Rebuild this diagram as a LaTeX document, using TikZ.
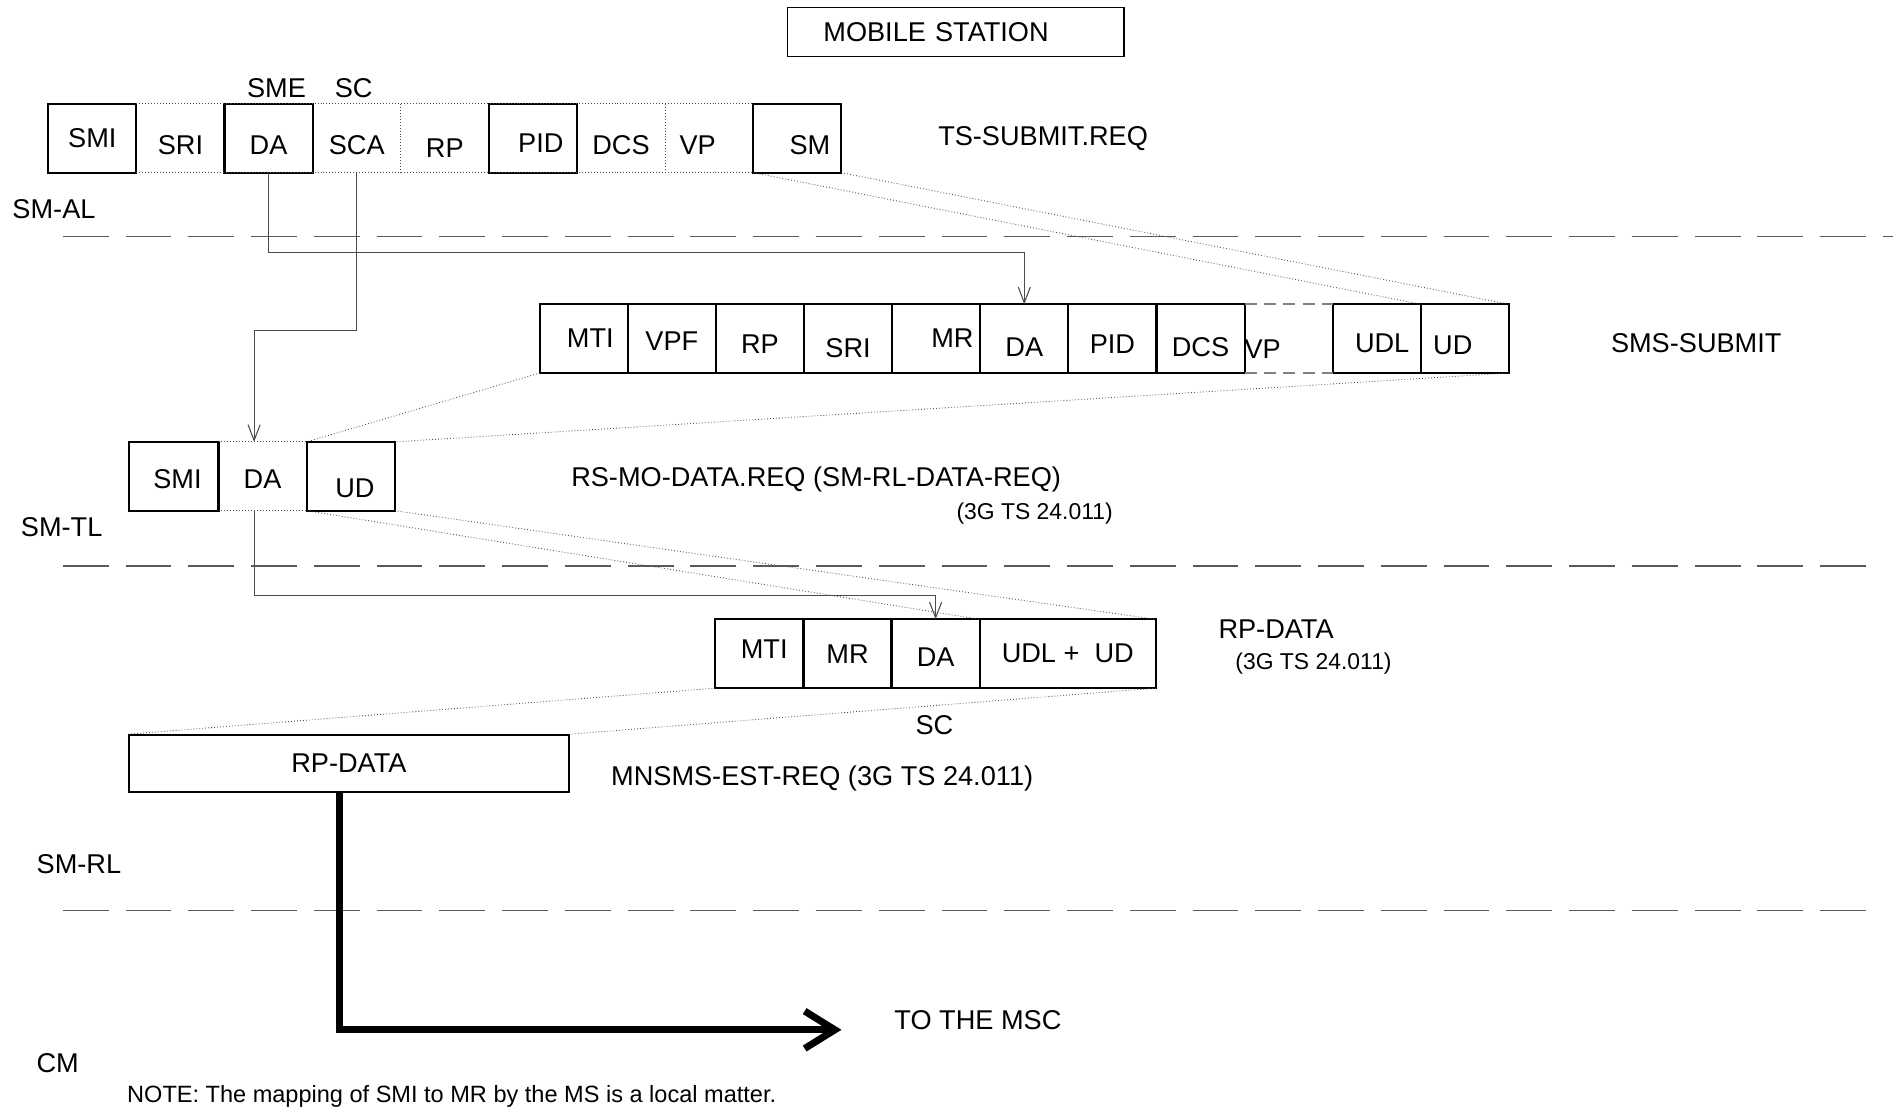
\documentclass[tikz,border=0pt]{standalone}
\usepackage{fontspec}
\setmainfont{Liberation Sans}
\usetikzlibrary{arrows.meta, positioning, calc}
\definecolor{lyrgray}{HTML}{5A5A5A}
\definecolor{mapgray}{HTML}{505050}
\newcommand\lblfont{\fontsize{12.8}{15}\selectfont}
\newcommand\reffont{\fontsize{10.8}{13}\selectfont}
\newcommand\notefont{\fontsize{11.1}{13}\selectfont}

\begin{document}
\begin{tikzpicture}[
  x=0.02cm, y=-0.02cm,
  font=\lblfont,
  cell/.style={minimum width=1.46cm, minimum height=1.14cm, inner sep=0pt, outer sep=0pt},
  fld/.style={cell, draw, line width=1pt},
  sink/.style={text height=#1, text depth=0pt},
  map/.style={densely dotted, line width=0.4pt, mapgray},
  gapline/.style={line width=0.7pt, gray, dash pattern=on 0.2cm off 0.12cm},
  lyr/.style={line width=0.7pt, lyrgray, dash pattern=on 0.76cm off 0.28cm},
  conn/.style={-{Straight Barb[length=0.26cm, width=0.2cm]}, line width=0.5pt, black!70},
  bigarr/.style={-{Straight Barb[length=0.5cm, width=0.62cm]}, line width=3.3pt, line join=miter},
  lbl/.style={inner sep=0pt},
  refnote/.style={inner sep=0pt, font=\reffont},
]

\useasboundingbox (0,0) rectangle (1568,919);

% Header
\node[draw, line width=0.6pt, minimum height=0.82cm, inner xsep=0.6cm, inner ysep=0pt,
  text width=4.38cm, align=left] (ms) at (791.5,26.5) {MOBILE STATION};

% SM-AL: TS-SUBMIT.REQ
\node[lbl] (sme) at (229,73) {SME};
\node[lbl] (sc1) at (293,73) {SC};
\node[fld] (smi1) at (76.5,114.5) {SMI};
\node[cell, sink=15.4pt, right=0pt of smi1] (sri1) {SRI};
\node[fld, sink=15.4pt, right=0pt of sri1] (da1) {DA};
\node[cell, sink=15.4pt, right=0pt of da1] (sca1) {SCA};
\node[cell, sink=17.7pt, right=0pt of sca1] (rp1) {RP};
\node[fld, sink=13.1pt, right=0pt of rp1] (pid1) {\hspace*{0.26cm}PID};
\node[cell, sink=15.4pt, right=0pt of pid1] (dcs1) {DCS};
\node[cell, sink=15.4pt, right=0pt of dcs1] (vp1) {VP\hspace*{0.38cm}};
\node[fld, sink=15.4pt, right=0pt of vp1] (sm1) {\hspace*{0.42cm}SM};
\draw[map] (smi1.north east) -- (sm1.north west);
\draw[map] (smi1.south east) -- (sm1.south west);
\draw[map] (sca1.north east) -- (sca1.south east);
\draw[map] (dcs1.north east) -- (dcs1.south east);
\node[lbl] (tsreq) at (864,115) {TS-SUBMIT.REQ};
\node[lbl, anchor=west] (smal) at (10,173) {SM-AL};
\draw[lyr] (52,196) -- (1568,196);

% SMS-SUBMIT
\node[fld] (mti2) at (483.5,280.5) {\hspace*{0.22cm}MTI};
\node[fld, sink=11.5pt, right=0pt of mti2] (vpf2) {VPF};
\node[fld, sink=14.3pt, right=0pt of vpf2] (rp2) {RP};
\node[fld, sink=17.7pt, right=0pt of rp2] (sri2) {SRI};
\node[fld, right=0pt of sri2] (mr2) {\hspace*{0.54cm}MR};
\node[fld, sink=16.5pt, right=0pt of mr2] (da2) {DA};
\node[fld, sink=14.3pt, right=0pt of da2] (pid2) {PID};
\node[fld, sink=16.5pt, right=0pt of pid2] (dcs2) {DCS};
\node[cell, sink=18.8pt, right=0pt of dcs2, text width=1.46cm, align=left] (vp2) {VP};
\node[fld, sink=13.1pt, right=0pt of vp2] (udl2) {\hspace*{0.18cm}UDL};
\node[fld, sink=15.4pt, right=0pt of udl2] (ud2) {UD\hspace*{0.4cm}};
\draw[gapline] (vp2.north west) -- (vp2.north east);
\draw[gapline] (vp2.south west) -- (vp2.south east);
\node[lbl] (smssub) at (1405,284) {SMS-SUBMIT};

% SM-TL
\node[fld, sink=12.0pt, minimum width=1.48cm] (smi3) at (144,394.5) {\hspace*{0.12cm}SMI};
\node[cell, sink=12.0pt, right=0pt of smi3] (da3) {DA};
\node[fld, sink=19.9pt, right=0pt of da3] (ud3) {\hspace*{0.14cm}UD};
\draw[map] (smi3.north east) -- (ud3.north west);
\draw[map] (smi3.south east) -- (ud3.south west);
\node[lbl] (rsmo) at (676,397) {RS-MO-DATA.REQ (SM-RL-DATA-REQ)};
\node[refnote] (ts1) at (857,425) {(3G TS 24.011)};
\node[lbl, anchor=west] (smtl) at (17,437) {SM-TL};
\draw[lyr] (52,469) -- (1550,469);

% RP-DATA
\node[fld, text height=9.17pt, text depth=5.1pt] (mti4) at (629,541.5) {\hspace*{0.16cm}MTI};
\node[fld, right=0pt of mti4] (mr4) {MR};
\node[fld, sink=12.0pt, right=0pt of mr4] (da4) {DA};
\node[fld, right=0pt of da4, minimum width=2.92cm] (ud4) {UDL +\ \ UD};
\node[lbl] (rpd) at (1057,521) {RP-DATA};
\node[refnote] (ts2) at (1088,550) {(3G TS 24.011)};
\node[lbl] (sc4) at (774,601) {SC};

% SM-RL
\node[draw, line width=1pt, minimum width=7.28cm, minimum height=0.94cm, inner sep=0pt]
  (rpbox) at (289,632.5) {RP-DATA};
\node[lbl] (mnsms) at (681,645) {MNSMS-EST-REQ (3G TS 24.011)};
\node[lbl, anchor=west] (smrl) at (30,716) {SM-RL};
\draw[lyr] (52,754) -- (1550,754);

% CM
\node[lbl] (msc) at (810,845) {TO THE MSC};
\coordinate (msctip) at (697,853);
\node[lbl, anchor=west] (cm) at (30,881) {CM};
\node[lbl, anchor=west, font=\notefont] (note) at (105,908)
  {NOTE: The mapping of SMI to MR by the MS is a local matter.};

% Mappings
\draw[map] (vp1.south east) -- (udl2.north east);
\draw[map] (sm1.south east) -- (ud2.north east);
\draw[map] (mti2.south west) -- (ud3.north west);
\draw[map] (ud2.south east) -- (ud3.north east);
\draw[map] (ud3.south west) -- (ud4.north west);
\draw[map] (ud3.south east) -- (ud4.north east);
\draw[map] (mti4.south west) -- (rpbox.north west);
\draw[map] (ud4.south east) -- (rpbox.north east);

% Address connectors
\draw[conn] (da1.south) -- ++(0,66) -| (da2.north);
\draw[conn] (sca1.south) -- ++(0,131) -| ([xshift=-0.14cm]da3.north);
\draw[conn] ([xshift=-0.14cm]da3.south) -- ++(0,70) -| (da4.north);
\draw[bigarr] ([xshift=-0.16cm]rpbox.south) |- (msctip);

\end{tikzpicture}
\end{document}
